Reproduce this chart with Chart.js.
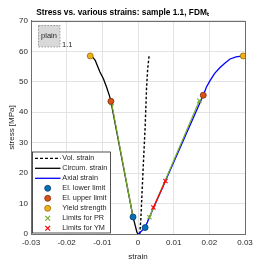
<!DOCTYPE html>
<html><head><meta charset="utf-8">
<script src="https://cdn.jsdelivr.net/npm/chart.js@4/dist/chart.umd.min.js"></script>
<style>html,body{margin:0;padding:0;background:#fff}#wrap{width:262px;height:263px}</style>
</head><body><div id="wrap"><canvas id="c" width="262" height="263"></canvas></div>
<script>
const chartTitle = 'Stress vs. various strains: sample 1.1, FDM\u209C';
const xTickValues = [-0.03,-0.02,-0.01,0,0.01,0.02,0.03];
const xTickLabels = ['-0.03','-0.02','-0.01','0','0.01','0.02','0.03'];
const yTickValues = [0,10,20,30,40,50,60,70];

const volStrain = [0.0005,0.0008,0.0015,0.0020,0.0024,0.0027,0.0031];
const volStress = [0,5,23,35,48,54,58.5];
const circStrain = [0,-0.0003,-0.0014,-0.0076,-0.0080,-0.0088,-0.0097,-0.0107,-0.0115,-0.0120,-0.0127,-0.0134];
const circStress = [0,0.6,5.6,43.6,45.4,48.2,51.0,53.3,55.6,57.1,58.1,58.5];
const axStrain = [0.0001,0.0020,0.0032,0.0183,0.0192,0.0202,0.0215,0.0230,0.0245,0.0258,0.0275,0.0295];
const axStress = [0,2.1,5.5,45.6,48.3,50.4,52.8,54.7,56.3,57.5,58.2,58.5];
const prLeftStrain = [-0.0014,-0.0074];
const prLeftStress = [5.6,43.0];
const prRightStrain = [0.0032,0.0172];
const prRightStress = [5.5,43.8];
const ymStrain = [0.0043,0.0077];
const ymStress = [8.7,17.4];
const elLowStrain = [-0.0014,0.0020];
const elLowStress = [5.6,2.1];
const elUpStrain = [-0.0076,0.0183];
const elUpStress = [43.6,45.6];
const yieldStrain = [-0.0134,0.0295];
const yieldStress = [58.5,58.5];
const legendLabels = ['Vol. strain','Circum. strain','Axial strain','El. lower limit','El. upper limit','Yield strength','Limits for PR','Limits for YM'];
const annotText = 'plain';
const annotLabel = '1.1';

const pts = (xs, ys) => xs.map((x,i)=>({x:x,y:ys[i]}));
const FONT = "'Liberation Sans', Arial, sans-serif";
const C_BLUE='#0072BD', C_ORANGE='#D95319', C_YELLOW='#EDB120', C_GREEN='#77AC30', C_RED='#FF0000';

const lineDs = (label,data,color,order,extra)=>Object.assign({label,data,showLine:true,borderColor:color,backgroundColor:color,borderWidth:1.3,pointRadius:0,order},extra||{});
const ptDs = (label,data,fill,edge,order)=>({label,data,showLine:false,pointStyle:'circle',pointRadius:3,backgroundColor:fill,borderColor:edge,borderWidth:0.8,order});
const xDs = (label,data,color,order)=>({label,data,showLine:true,borderColor:color,backgroundColor:color,borderWidth:1.2,pointStyle:'crossRot',pointRadius:3,pointBorderWidth:1.1,order});

const datasets = [
  lineDs('Vol. strain', pts(volStrain,volStress), '#000', 10, {borderDash:[2.5,2],borderWidth:1.4}),
  lineDs('Circum. strain', pts(circStrain,circStress), '#000', 9),
  lineDs('Axial strain', pts(axStrain,axStress), '#0000FF', 8),
  xDs('Limits for PR', pts(prLeftStrain,prLeftStress), C_GREEN, 7),
  xDs('Limits for PR', pts(prRightStrain,prRightStress), C_GREEN, 6),
  xDs('Limits for YM', pts(ymStrain,ymStress), C_RED, 5),
  ptDs('El. lower limit', pts(elLowStrain,elLowStress), C_BLUE, '#0d3d66', 3),
  ptDs('El. upper limit', pts(elUpStrain,elUpStress), C_ORANGE, '#7a2e0e', 2),
  ptDs('Yield strength', pts(yieldStrain,yieldStress), C_YELLOW, '#9a6a00', 1)
];

const extras = {
  id:'extras',
  afterDraw(chart){
    const ctx = chart.ctx, a = chart.chartArea;
    ctx.save();
    ctx.strokeStyle='#6e6e6e'; ctx.lineWidth=1; ctx.setLineDash([]);
    ctx.strokeRect(Math.round(a.left)+0.5, Math.round(a.top)+0.5, Math.round(a.right-a.left), Math.round(a.bottom-a.top));
    ctx.fillStyle='#d9d9d9'; ctx.fillRect(38,25,22,22);
    ctx.strokeStyle='#8c8c8c'; ctx.setLineDash([1.5,1.5]); ctx.lineWidth=0.8; ctx.strokeRect(38.5,25.5,21.5,21.5);
    ctx.setLineDash([]);
    ctx.fillStyle='#262626'; ctx.font='7.5px '+FONT; ctx.textAlign='center'; ctx.textBaseline='middle';
    ctx.fillText(annotText,49,36);
    ctx.textAlign='left'; ctx.fillText(annotLabel,62,45);
    const lx=32, ly=151.5, lw=79, lh=82;
    ctx.fillStyle='#fff'; ctx.fillRect(lx,ly,lw,lh);
    ctx.strokeStyle='#262626'; ctx.lineWidth=0.8; ctx.strokeRect(lx+0.5,ly+0.5,lw-1,lh-1);
    ctx.font='7.3px '+FONT; ctx.textBaseline='middle';
    legendLabels.forEach((lab,i)=>{
      const y = 158.3 + i*10;
      ctx.save();
      if(i<3){
        ctx.strokeStyle = i===2 ? '#0000FF' : '#000';
        ctx.lineWidth=1.3;
        if(i===0) ctx.setLineDash([3,2]);
        ctx.beginPath(); ctx.moveTo(35,y); ctx.lineTo(60.5,y); ctx.stroke();
      } else if(i<6){
        const f=[C_BLUE,C_ORANGE,C_YELLOW][i-3], e=['#0d3d66','#7a2e0e','#9a6a00'][i-3];
        ctx.fillStyle=f; ctx.strokeStyle=e; ctx.lineWidth=0.8;
        ctx.beginPath(); ctx.arc(47.7,y,3,0,Math.PI*2); ctx.fill(); ctx.stroke();
      } else {
        ctx.strokeStyle = i===6 ? C_GREEN : C_RED; ctx.lineWidth=1.2;
        const r=2.4;
        ctx.beginPath(); ctx.moveTo(47.7-r,y-r); ctx.lineTo(47.7+r,y+r); ctx.moveTo(47.7-r,y+r); ctx.lineTo(47.7+r,y-r); ctx.stroke();
      }
      ctx.restore();
      ctx.fillStyle='#262626'; ctx.textAlign='left';
      ctx.fillText(lab,62.3,y);
    });
    ctx.restore();
  }
};

new Chart(document.getElementById('c'), {
  type:'scatter',
  data:{datasets},
  plugins:[extras],
  options:{
    responsive:false, animation:false, devicePixelRatio:1,
    layout:{padding:{top:0,right:17,left:0,bottom:0}},
    plugins:{
      legend:{display:false},
      tooltip:{enabled:false},
      title:{display:true,text:chartTitle,color:'#000',font:{family:FONT,size:8.3,weight:'bold'},padding:{top:8,bottom:3}}
    },
    scales:{
      x:{type:'linear',min:-0.03,max:0.03,
        afterFit(s){s.height=29;},
        afterBuildTicks(s){s.ticks=xTickValues.map(v=>({value:v}));},
        ticks:{font:{family:FONT,size:8},color:'#262626',padding:4,maxRotation:0,autoSkip:false,
          callback:(v,i)=>xTickLabels[i]},
        grid:{color:'#e3e3e3',tickLength:0,drawTicks:false},
        border:{color:'#6e6e6e'},
        title:{display:true,text:'strain',color:'#262626',font:{family:FONT,size:8},padding:{top:0,bottom:1.5}}
      },
      y:{type:'linear',min:0,max:70,
        afterFit(s){s.width=31;},
        afterBuildTicks(s){s.ticks=yTickValues.map(v=>({value:v}));},
        ticks:{font:{family:FONT,size:8},color:'#262626',padding:3,autoSkip:false},
        grid:{color:'#e3e3e3',tickLength:0,drawTicks:false},
        border:{color:'#6e6e6e'},
        title:{display:true,text:'stress [MPa]',color:'#262626',font:{family:FONT,size:8},padding:{top:7,bottom:0}}
      }
    }
  }
});
</script></body></html>
